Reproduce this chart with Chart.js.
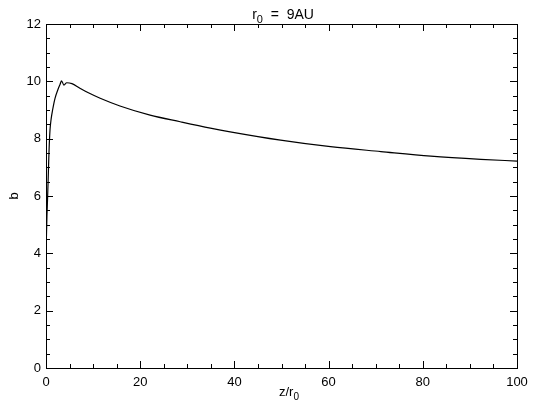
<!DOCTYPE html>
<html>
<head>
<meta charset="utf-8">
<script src="https://cdn.jsdelivr.net/npm/chart.js@4/dist/chart.umd.min.js"></script>
<style>
  html, body { margin: 0; padding: 0; background: #fff; }
  #wrap { width: 536px; height: 405px; }
</style>
</head>
<body>
<div id="wrap"><canvas id="c" width="536" height="405"></canvas></div>
<script>
// Impact parameter b along the flow, for r0 = 9 AU
const zOverR0 = [0.05, 0.2, 0.35, 0.5, 0.65, 0.85, 1.1, 1.4, 1.9, 2.5, 3.0, 3.3, 3.8, 4.4, 5.5, 7.2, 9, 11.5, 15.7, 22.1, 28.5, 34.9, 39.1, 49.8, 60.4, 71.1, 81.7, 92.3, 100];
const bValues = [4.3, 5.3, 6.0, 6.8, 7.6, 8.3, 8.7, 9.0, 9.4, 9.7, 9.9, 10.02, 9.87, 9.95, 9.92, 9.76, 9.6, 9.41, 9.14, 8.82, 8.59, 8.37, 8.24, 7.95, 7.72, 7.55, 7.39, 7.28, 7.22];

const xTicks = [0, 20, 40, 60, 80, 100];
const yTicks = [0, 2, 4, 6, 8, 10, 12];
const xMinorStep = 5;
const yMinorStep = 0.5;

const FONT = '"Liberation Sans", Arial, sans-serif';
const INK = '#000';

// Text with a subscript part: segments of [text, isSub]
function drawRich(ctx, parts, cx, cy, size) {
  const subSize = Math.round(size * 0.75);
  let total = 0;
  parts.forEach(([t, sub]) => {
    ctx.font = (sub ? subSize : size) + 'px ' + FONT;
    total += ctx.measureText(t).width;
  });
  let x = cx - total / 2;
  ctx.textBaseline = 'alphabetic';
  ctx.textAlign = 'left';
  parts.forEach(([t, sub]) => {
    ctx.font = (sub ? subSize : size) + 'px ' + FONT;
    ctx.fillText(t, x, cy + (sub ? size * 0.3 : 0));
    x += ctx.measureText(t).width;
  });
}

const framePlugin = {
  id: 'frame',
  afterDraw(chart) {
    const { ctx, chartArea: a, scales: { x, y } } = chart;
    ctx.save();
    ctx.strokeStyle = INK;
    ctx.fillStyle = INK;
    ctx.lineWidth = 1;
    ctx.strokeRect(Math.round(a.left) + 0.5, Math.round(a.top) + 0.5,
                   Math.round(a.right - a.left), Math.round(a.bottom - a.top));
    const major = 7, minor = 4;
    ctx.beginPath();
    for (let v = x.min; v <= x.max + 1e-9; v += xMinorStep) {
      const px = Math.round(x.getPixelForValue(v)) + 0.5;
      const len = (Math.abs(v % 20) < 1e-9) ? major : minor;
      ctx.moveTo(px, a.bottom); ctx.lineTo(px, a.bottom - len);
      ctx.moveTo(px, a.top); ctx.lineTo(px, a.top + len);
    }
    for (let v = y.min; v <= y.max + 1e-9; v += yMinorStep) {
      const py = Math.round(y.getPixelForValue(v)) + 0.5;
      const len = (Math.abs(v % 2) < 1e-9) ? major : minor;
      ctx.moveTo(a.left, py); ctx.lineTo(a.left + len, py);
      ctx.moveTo(a.right, py); ctx.lineTo(a.right - len, py);
    }
    ctx.stroke();

    drawRich(ctx, [['r', false], ['0', true], ['  =  9AU', false]], 283, 19, 14);
    drawRich(ctx, [['z/r', false], ['0', true]], 289, 396, 13);
    ctx.save();
    ctx.translate(18, (a.top + a.bottom) / 2);
    ctx.rotate(-Math.PI / 2);
    drawRich(ctx, [['b', false]], 0, 0, 13);
    ctx.restore();
    ctx.restore();
  }
};

new Chart(document.getElementById('c'), {
  type: 'line',
  data: {
    datasets: [{
      data: zOverR0.map((z, i) => ({ x: z, y: bValues[i] })),
      borderColor: INK,
      borderWidth: 1.2,
      pointRadius: 0,
      fill: false,
      cubicInterpolationMode: 'monotone'
    }]
  },
  options: {
    responsive: false,
    animation: false,
    devicePixelRatio: 1,
    layout: { padding: { top: 24, right: 19, left: 0, bottom: 0 } },
    plugins: { legend: { display: false }, tooltip: { enabled: false }, title: { display: false } },
    scales: {
      x: {
        type: 'linear', min: 0, max: 100,
        afterBuildTicks: s => { s.ticks = xTicks.map(v => ({ value: v })); },
        afterFit: s => { s.height = 37; },
        grid: { display: false, drawTicks: false },
        border: { display: false },
        ticks: { color: INK, padding: 7, maxRotation: 0, font: { family: FONT, size: 13 } }
      },
      y: {
        min: 0, max: 12,
        afterBuildTicks: s => { s.ticks = yTicks.map(v => ({ value: v })); },
        afterFit: s => { s.width = 46; },
        grid: { display: false, drawTicks: false },
        border: { display: false },
        ticks: { color: INK, padding: 5, font: { family: FONT, size: 13 } }
      }
    }
  },
  plugins: [framePlugin]
});
</script>
</body>
</html>
